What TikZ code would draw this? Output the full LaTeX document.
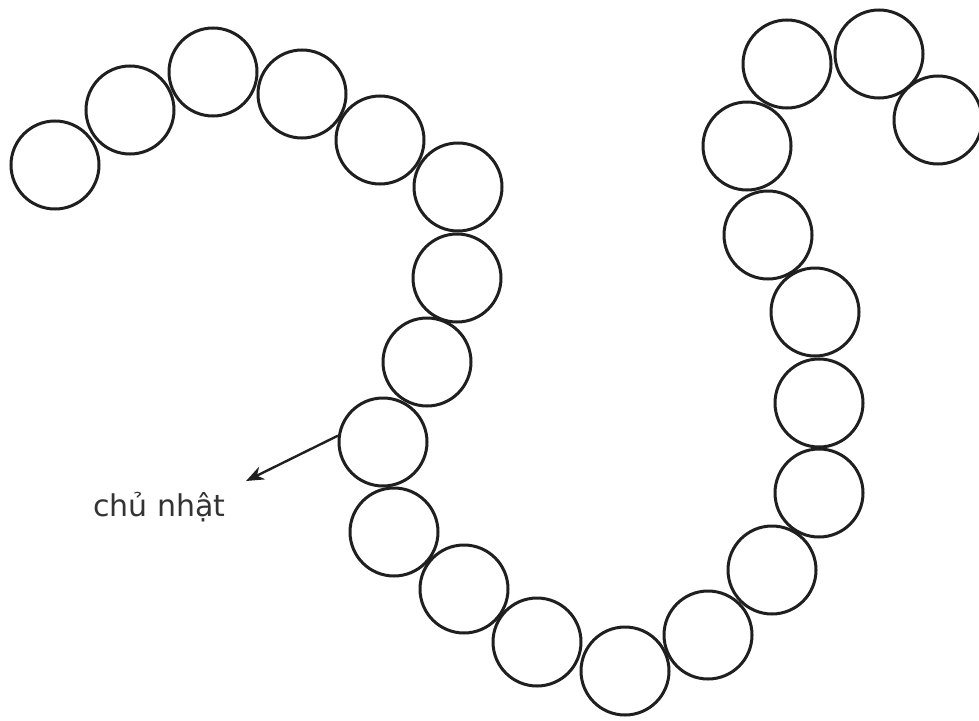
\documentclass[tikz,border=0pt]{standalone}
\usepackage{fontspec}
\newfontfamily\labelfont{DejaVu Sans}
\usetikzlibrary{arrows.meta}
\begin{document}
\begin{tikzpicture}[x=1pt,y=-1pt,
  bead/.style={circle,draw=black!88,line width=3pt,minimum size=88pt,inner sep=0pt},
  pointer/.style={line width=2.4pt,draw=black!88,-{Stealth[length=18pt,width=14pt]}},
  lbl/.style={font=\labelfont\fontsize{30}{36}\selectfont,text=black!80,inner sep=0pt}]
\path[use as bounding box] (0,0) rectangle (979,720);
\clip (0,0) rectangle (979,720);
\node[bead] (c1) at (55,165) {};
\node[bead] (c2) at (130,110) {};
\node[bead] (c3) at (213,72) {};
\node[bead] (c4) at (302,94) {};
\node[bead] (c5) at (380,140) {};
\node[bead] (c6) at (458,187) {};
\node[bead] (c7) at (457,278) {};
\node[bead] (c8) at (427,362) {};
\node[bead] (c9) at (383,442) {};
\node[bead] (c10) at (394,532) {};
\node[bead] (c11) at (464,589) {};
\node[bead] (c12) at (537,642) {};
\node[bead] (c13) at (625,671) {};
\node[bead] (c14) at (708,635) {};
\node[bead] (c15) at (772,570) {};
\node[bead] (c16) at (819,493) {};
\node[bead] (c17) at (819,403) {};
\node[bead] (c18) at (815,312) {};
\node[bead] (c19) at (768,235) {};
\node[bead] (c20) at (747,146) {};
\node[bead] (c21) at (787,64) {};
\node[bead] (c22) at (879,54) {};
\node[bead] (c23) at (938,120) {};
\node[lbl,anchor=base west] (label) at (93,516) {chủ nhật};
\coordinate (tip) at (246,481);
\draw[pointer] (c9.172) -- (tip);
\end{tikzpicture}
\end{document}
